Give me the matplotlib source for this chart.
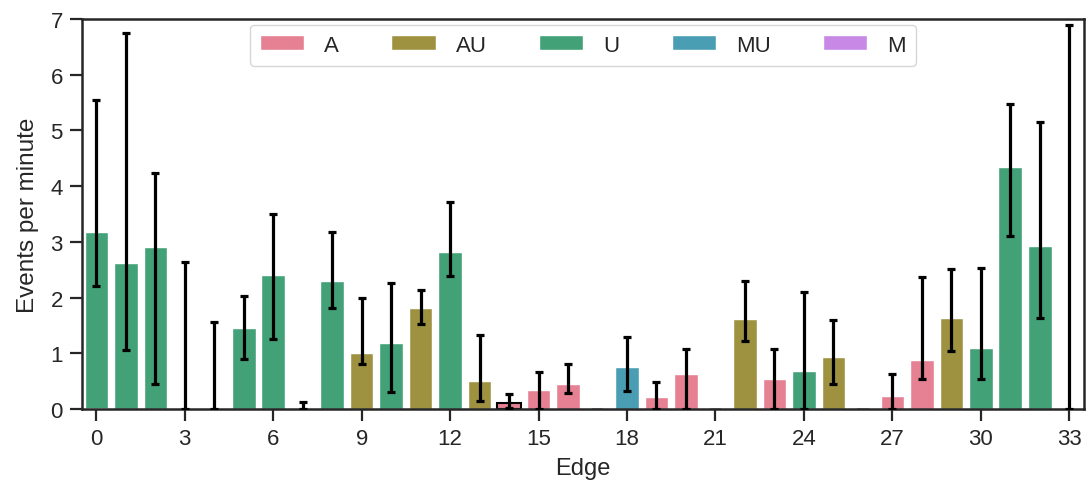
import matplotlib
matplotlib.use("Agg")
import matplotlib.pyplot as plt
import seaborn as sns
import numpy as np

sns.set_style("ticks")
plt.rcParams['font.family'] = ['Liberation Sans', 'DejaVu Sans']

categories = ["A", "AU", "U", "MU", "M"]
edges = list(range(34))
edge_cat = ["U", "U", "U", "U", "U", "U", "U", "U", "U", "AU",
            "U", "AU", "U", "AU", "A", "A", "A", "A", "MU", "A",
            "A", "A", "AU", "A", "U", "AU", "A", "A", "A", "AU",
            "U", "U", "U", "U"]
means = [3.17, 2.62, 2.90, 0.0, 0.0, 1.45, 2.40, 0.0, 2.29, 1.01,
         1.18, 1.81, 2.81, 0.50, 0.11, 0.34, 0.44, 0.0, 0.76, 0.22,
         0.62, 0.0, 1.61, 0.53, 0.69, 0.94, 0.0, 0.23, 0.88, 1.63,
         1.10, 4.34, 2.93, 0.0]
ci_low = [2.21, 1.06, 0.44, 0.0, 0.0, 0.90, 1.26, 0.0, 1.81, 0.80,
          0.31, 1.53, 2.39, 0.14, 0.02, 0.0, 0.29, 0.0, 0.33, 0.0,
          0.0, 0.0, 1.22, 0.0, 0.0, 0.45, 0.0, 0.0, 0.53, 1.04,
          0.54, 3.11, 1.63, 0.0]
ci_high = [5.55, 6.74, 4.24, 2.64, 1.56, 2.03, 3.50, 0.12, 3.17, 1.99,
           2.26, 2.14, 3.72, 1.32, 0.26, 0.67, 0.81, 0.0, 1.30, 0.48,
           1.07, 0.0, 2.29, 1.07, 2.10, 1.59, 0.0, 0.62, 2.37, 2.52,
           2.53, 5.47, 5.16, 6.89]
highlight = 14

palette = dict(zip(categories, sns.color_palette("husl", 5, desat=0.75)))

fig = plt.figure(figsize=(10.88, 4.89), dpi=100)
ax = fig.add_axes([0.075, 0.1616, 0.9213, 0.7975])

means = np.array(means)
colors = [palette[c] for c in edge_cat]
ax.bar(edges, means, width=0.8, color=colors, edgecolor="white", linewidth=1)
ax.bar(highlight, means[highlight], width=0.8, color=palette["A"],
       edgecolor="black", linewidth=1.5)

# zero-height bars still leave a faint line on the axis
zero = [i for i in edges if means[i] == 0 and ci_high[i] == 0]
ax.bar(zero, [0.015] * len(zero), width=0.4, color="#aaaaaa", linewidth=0)

has_err = [i for i in edges if ci_high[i] > 0]
yerr = np.array([[means[i] - ci_low[i] for i in has_err],
                 [ci_high[i] - means[i] for i in has_err]])
ax.errorbar(has_err, means[has_err], yerr=yerr, fmt="none", ecolor="black",
            elinewidth=2.3, capsize=3, capthick=2.3, zorder=3)

for c in categories:
    ax.bar(0, 0, color=palette[c], label=c)

ax.set_xlim(-0.5, 33.5)
ax.set_ylim(0, 7)
ax.set_xticks(range(0, 34, 3))
ax.set_yticks(range(0, 8))
ax.set_xlabel("Edge", fontsize=17, labelpad=6)
ax.set_ylabel("Events per minute", fontsize=17.5, labelpad=8)
ax.tick_params(labelsize=16, length=8.5, width=1.6, color="#262626", pad=5)
for s in ax.spines.values():
    s.set_linewidth(1.8)
    s.set_color("#262626")

ax.legend(loc="upper center", ncol=5, fontsize=16, handlelength=2.0,
          handleheight=0.63, handletextpad=0.9, columnspacing=2.35,
          borderpad=0.45, borderaxespad=0.25, frameon=True)

fig.savefig("out.png", dpi=100)
